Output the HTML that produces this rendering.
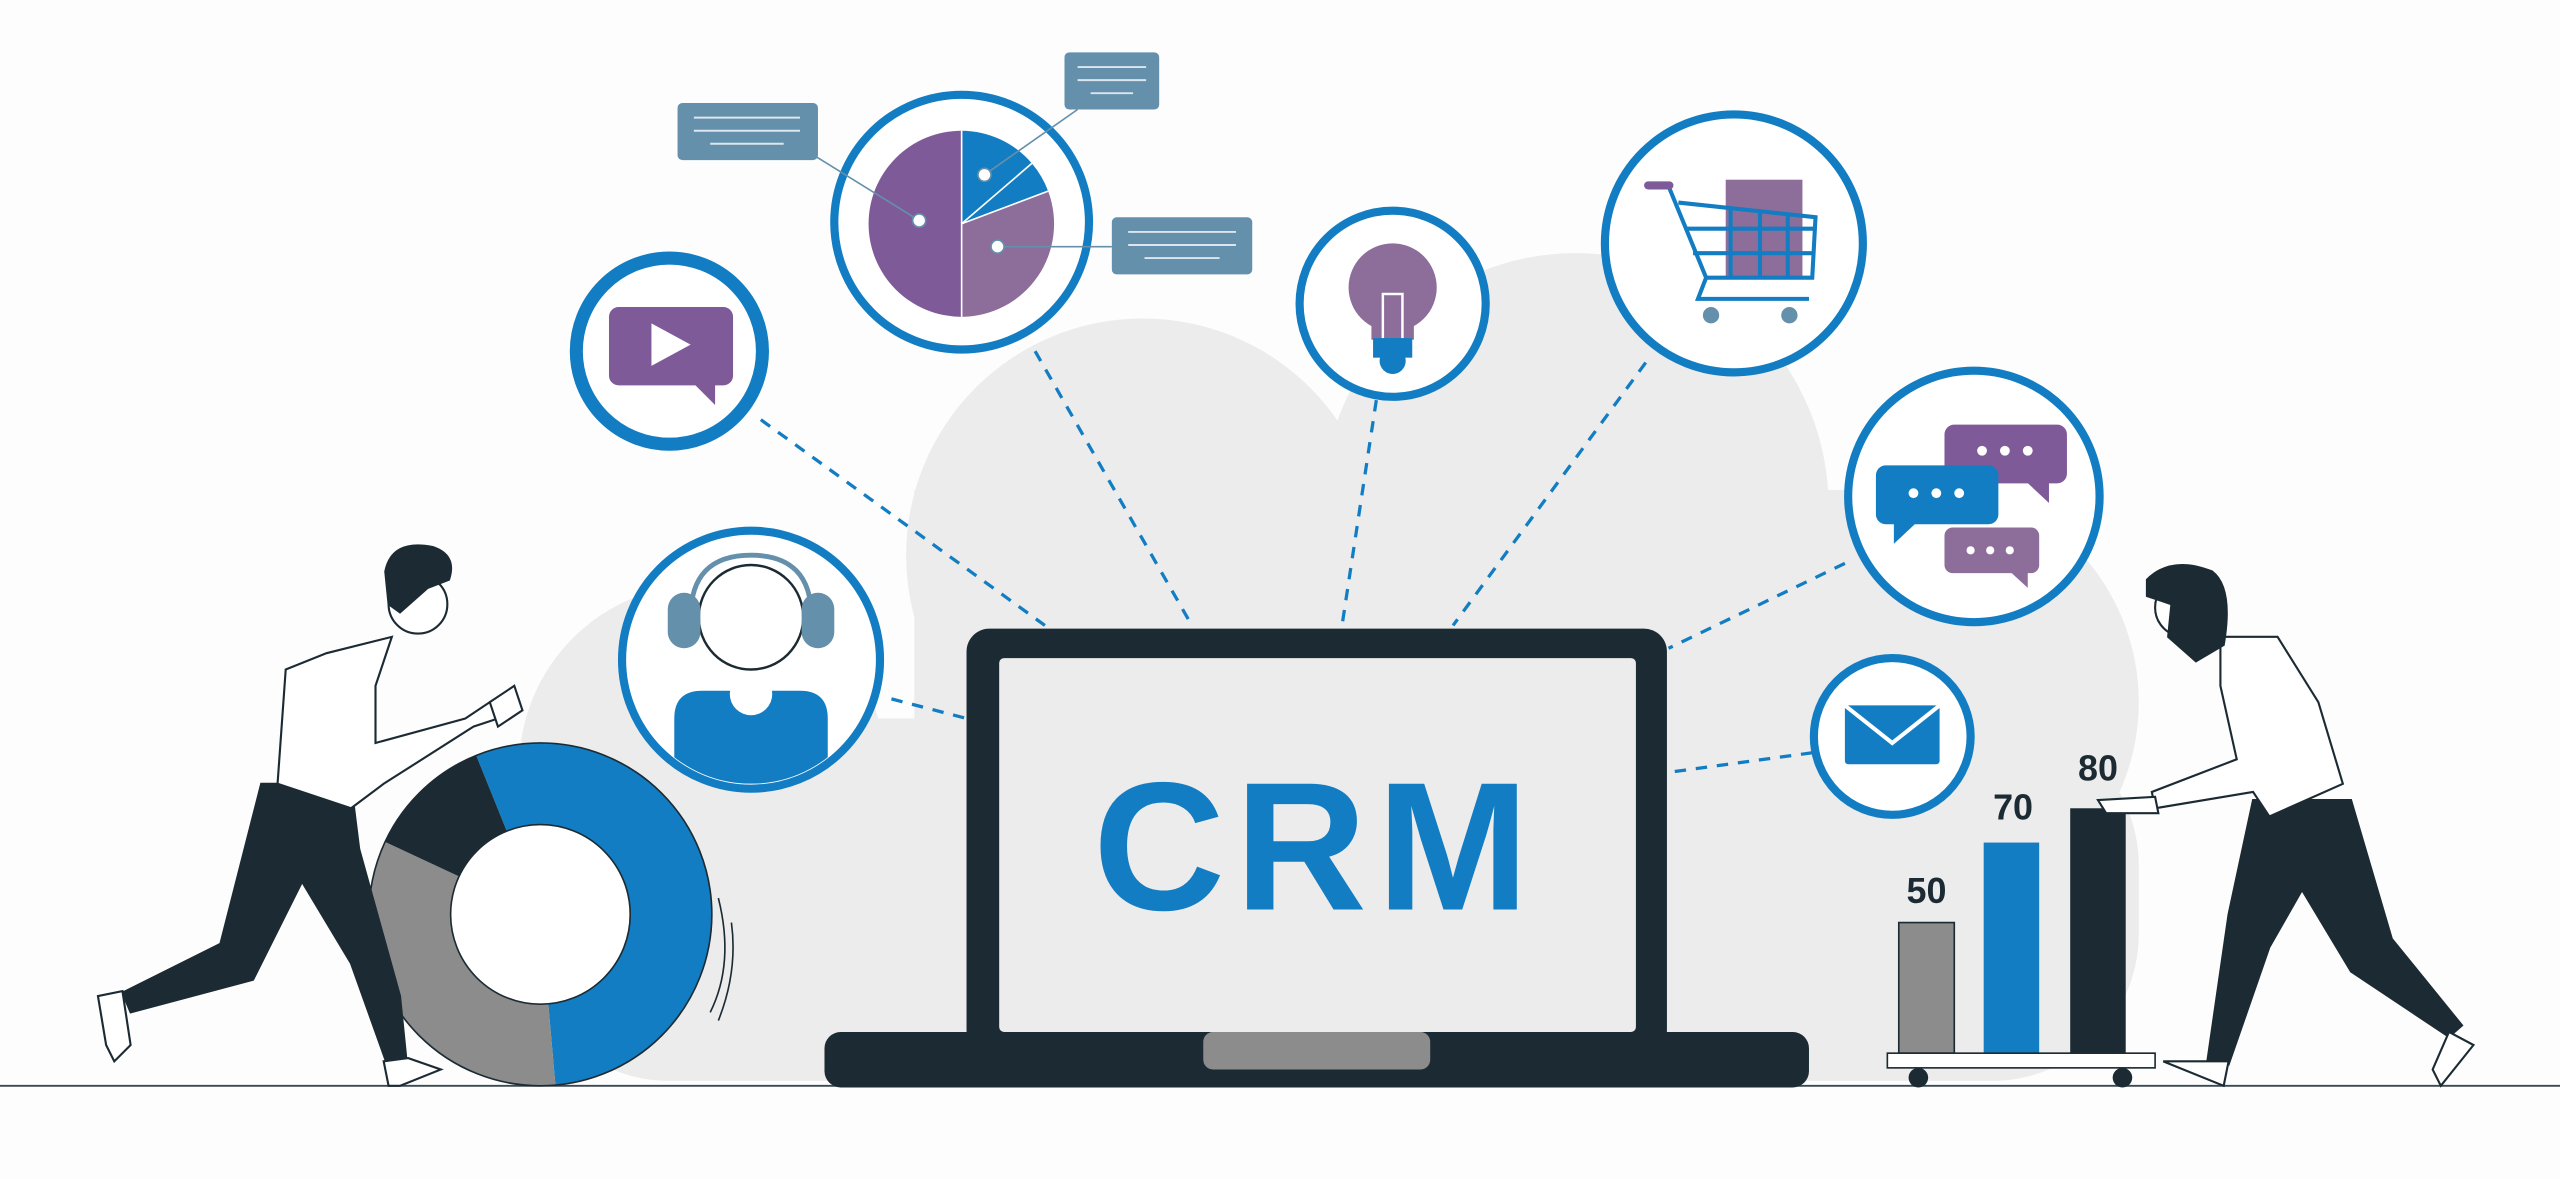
<!DOCTYPE html>
<html><head><meta charset="utf-8"><style>
html,body{margin:0;padding:0;background:#fdfdfd;}
svg{display:block}
</style></head><body>
<svg width="2560" height="1179" viewBox="0 0 1568 722" xmlns="http://www.w3.org/2000/svg">
<rect width="1568" height="722" fill="#fdfdfd"/>
<!-- cloud -->
<g fill="#ececec">
<circle cx="700" cy="340" r="145"/>
<circle cx="965" cy="310" r="155"/>
<circle cx="1175" cy="430" r="135"/>
<circle cx="430" cy="470" r="112"/>
<rect x="320" y="440" width="990" height="222" rx="90"/>
<rect x="560" y="300" width="600" height="200"/>
</g>
<line x1="0" y1="665" x2="1568" y2="665" stroke="#3a4a52" stroke-width="1.2"/>
<!-- dashed connectors -->
<g stroke="#127dc2" stroke-width="2" stroke-dasharray="7,6" fill="none">
<line x1="466" y1="257" x2="640" y2="383"/>
<line x1="634" y1="215" x2="730" y2="383"/>
<line x1="843" y1="245" x2="822" y2="383"/>
<line x1="1008" y1="222" x2="890" y2="383"/>
<line x1="1130" y1="345" x2="1022" y2="397"/>
<line x1="1110" y1="461" x2="1022" y2="473"/>
<line x1="546" y1="428" x2="592" y2="440"/>
</g>
<!-- laptop -->
<rect x="592" y="385" width="429" height="260" rx="14" fill="#1c2b33"/>
<rect x="612" y="403" width="390" height="229" rx="3" fill="#ececec"/>
<rect x="505" y="632" width="603" height="34" rx="10" fill="#1c2b33"/>
<rect x="737" y="632" width="139" height="23" rx="6" fill="#8c8c8c"/>
<text x="806" y="557" text-anchor="middle" font-family="Liberation Sans, sans-serif" font-weight="bold" font-size="112" letter-spacing="6" fill="#127dc2">CRM</text>
<!-- circles -->
<g fill="#fff" stroke="#127dc2">
<circle cx="410" cy="215" r="57" stroke-width="8"/>
<circle cx="589" cy="136" r="78" stroke-width="5"/>
<circle cx="853" cy="186" r="57" stroke-width="5"/>
<circle cx="1062" cy="149" r="79" stroke-width="5"/>
<circle cx="1209" cy="304" r="77" stroke-width="5"/>
<circle cx="1159" cy="451" r="48" stroke-width="5"/>
<circle cx="460" cy="404" r="79" stroke-width="5"/>
</g>
<!-- video icon -->
<rect x="373" y="188" width="76" height="48" rx="6" fill="#7f5a99"/>
<path d="M424 234 L438 234 L438 248 Z" fill="#7f5a99"/>
<path d="M399 198 L423 211 L399 224 Z" fill="#fff"/>
<!-- pie -->
<path d="M589 137 L589 80 A57 57 0 0 0 589 194 Z" fill="#7f5a99"/>
<path d="M589 137 L589 194 A57 57 0 0 0 642 117 Z" fill="#8d6e9a"/>
<path d="M589 137 L642 117 A57 57 0 0 0 632 100 Z" fill="#127dc2"/>
<path d="M589 137 L632 100 A57 57 0 0 0 589 80 Z" fill="#127dc2"/>
<g stroke="#fff" stroke-width="1"><line x1="589" y1="80" x2="589" y2="194"/><line x1="589" y1="137" x2="642" y2="117"/><line x1="589" y1="137" x2="632" y2="100"/></g>
<g stroke="#6490ab" stroke-width="1"><line x1="500" y1="96" x2="563" y2="135"/><line x1="603" y1="107" x2="660" y2="67"/><line x1="611" y1="151" x2="681" y2="151"/></g>
<g fill="#fff" stroke="#6490ab" stroke-width="1"><circle cx="563" cy="135" r="4"/><circle cx="603" cy="107" r="4"/><circle cx="611" cy="151" r="4"/></g>
<g fill="#6490ab"><rect x="415" y="63" width="86" height="35" rx="3"/><rect x="652" y="32" width="58" height="35" rx="3"/><rect x="681" y="133" width="86" height="35" rx="3"/></g>
<g stroke="#dce6ee" stroke-width="1.2">
<line x1="425" y1="72" x2="490" y2="72"/><line x1="425" y1="80" x2="490" y2="80"/><line x1="435" y1="88" x2="480" y2="88"/>
<line x1="660" y1="41" x2="702" y2="41"/><line x1="660" y1="49" x2="702" y2="49"/><line x1="668" y1="57" x2="694" y2="57"/>
<line x1="691" y1="142" x2="757" y2="142"/><line x1="691" y1="150" x2="757" y2="150"/><line x1="701" y1="158" x2="747" y2="158"/>
</g>
<!-- bulb -->
<circle cx="853" cy="176" r="27" fill="#8d6e9a"/>
<rect x="840" y="180" width="26" height="28" fill="#8d6e9a"/>
<rect x="847" y="180" width="12" height="28" fill="none" stroke="#fff" stroke-width="1.5"/>
<rect x="841" y="207" width="24" height="12" fill="#127dc2"/>
<circle cx="853" cy="221" r="8" fill="#127dc2"/>
<!-- cart -->
<rect x="1057" y="110" width="47" height="60" fill="#8d6e9a"/>
<g stroke="#127dc2" stroke-width="2.5" fill="none">
<path d="M1022 114 L1045 170 L1040 183 L1108 183"/>
<path d="M1028 124 L1112 133 L1110 170 L1045 170"/>
<line x1="1032" y1="140" x2="1111" y2="140"/><line x1="1037" y1="155" x2="1110" y2="155"/>
<line x1="1060" y1="127" x2="1060" y2="170"/><line x1="1078" y1="129" x2="1078" y2="170"/><line x1="1095" y1="131" x2="1095" y2="170"/>
</g>
<rect x="1007" y="111" width="18" height="5" rx="2.5" fill="#7f5a99"/>
<circle cx="1048" cy="193" r="5" fill="#6490ab"/><circle cx="1096" cy="193" r="5" fill="#6490ab"/>
<!-- chat -->
<rect x="1191" y="260" width="75" height="36" rx="6" fill="#7f5a99"/><path d="M1240 294 L1255 308 L1255 294 Z" fill="#7f5a99"/>
<rect x="1149" y="285" width="75" height="36" rx="6" fill="#127dc2"/><path d="M1160 319 L1160 333 L1175 319 Z" fill="#127dc2"/>
<rect x="1191" y="323" width="58" height="28" rx="5" fill="#8d6e9a"/><path d="M1230 349 L1242 360 L1242 349 Z" fill="#8d6e9a"/>
<g fill="#fff"><circle cx="1214" cy="276" r="3"/><circle cx="1228" cy="276" r="3"/><circle cx="1242" cy="276" r="3"/>
<circle cx="1172" cy="302" r="3"/><circle cx="1186" cy="302" r="3"/><circle cx="1200" cy="302" r="3"/>
<circle cx="1207" cy="337" r="2.5"/><circle cx="1219" cy="337" r="2.5"/><circle cx="1231" cy="337" r="2.5"/></g>
<!-- mail -->
<rect x="1130" y="432" width="58" height="36" rx="2" fill="#127dc2"/>
<path d="M1130 432 L1159 455 L1188 432" stroke="#fff" stroke-width="2.5" fill="none"/>
<!-- headset person -->
<clipPath id="hc"><circle cx="460" cy="404" r="76"/></clipPath>
<g clip-path="url(#hc)">
<path d="M413 480 L413 440 Q413 423 430 423 L490 423 Q507 423 507 440 L507 480 Z" fill="#127dc2"/>
<circle cx="460" cy="425" r="13" fill="#fff"/>
</g>
<circle cx="460" cy="378" r="32" fill="#fff" stroke="#1c2b33" stroke-width="1.5"/>
<path d="M423 378 Q423 340 460 340 Q497 340 497 378" fill="none" stroke="#6490ab" stroke-width="3"/>
<rect x="409" y="363" width="20" height="34" rx="10" fill="#6490ab"/>
<rect x="491" y="363" width="20" height="34" rx="10" fill="#6490ab"/>
<!-- donut -->
<path d="M331 560 L291.7 462.7 A105 105 0 1 1 340.2 664.6 Z" fill="#127dc2"/>
<path d="M331 560 L340.2 664.6 A105 105 0 0 1 235.8 515.6 Z" fill="#8c8c8c"/>
<path d="M331 560 L235.8 515.6 A105 105 0 0 1 291.7 462.7 Z" fill="#1c2b33"/>
<circle cx="331" cy="560" r="105" fill="none" stroke="#1c2b33" stroke-width="1"/>
<circle cx="331" cy="560" r="55" fill="#fff" stroke="#1c2b33" stroke-width="1"/>
<g stroke="#1c2b33" fill="none" stroke-width="1"><path d="M440 550 Q450 590 435 620"/><path d="M448 565 Q452 595 440 625"/></g>
<!-- left person -->
<g stroke="#1c2b33" stroke-width="1.3">
<path d="M160 480 L135 578 L75 608 L80 620 L155 600 L185 540 L215 590 L240 660 L250 660 L245 610 L220 520 L215 480 Z" fill="#1c2b33"/>
<path d="M60 610 L75 607 L80 640 L70 650 L65 640 Z" fill="#fff"/>
<path d="M235 650 L250 648 L270 655 L245 665 L238 665 Z" fill="#fff"/>
<path d="M240 390 L200 400 L175 410 L170 480 L215 495 L235 480 L290 445 L305 440 L300 430 L285 440 L230 455 L230 420 Z" fill="#fff"/>
<circle cx="256" cy="370" r="18" fill="#fff"/>
<path d="M236 350 Q240 330 265 335 Q280 340 275 355 L262 360 L245 375 L238 370 Z" fill="#1c2b33"/>
<path d="M300 430 L315 420 L320 435 L305 445 Z" fill="#fff"/>
</g>
<!-- bars -->
<rect x="1163" y="565" width="34" height="80" fill="#8c8c8c" stroke="#1c2b33" stroke-width="1"/>
<rect x="1215" y="516" width="34" height="129" fill="#127dc2"/>
<rect x="1268" y="495" width="34" height="150" fill="#1c2b33"/>
<g font-family="Liberation Sans, sans-serif" font-weight="bold" font-size="22" fill="#1c2b33" text-anchor="middle">
<text x="1180" y="553">50</text><text x="1233" y="502">70</text><text x="1285" y="478">80</text></g>
<rect x="1156" y="645" width="164" height="9" fill="#fff" stroke="#1c2b33" stroke-width="1"/>
<circle cx="1175" cy="660" r="6" fill="#1c2b33"/><circle cx="1300" cy="660" r="6" fill="#1c2b33"/>
<!-- right person -->
<g stroke="#1c2b33" stroke-width="1.3">
<path d="M1380 490 L1365 560 L1352 650 L1365 652 L1390 580 L1410 545 L1440 595 L1500 635 L1508 628 L1465 575 L1440 490 Z" fill="#1c2b33"/>
<path d="M1350 650 L1365 650 L1362 665 L1325 650 Z" fill="#fff"/>
<path d="M1500 632 L1515 640 L1495 665 L1490 655 Z" fill="#fff"/>
<path d="M1360 390 L1395 390 L1420 430 L1435 480 L1390 500 L1380 485 L1320 495 L1318 485 L1370 465 L1360 420 Z" fill="#fff"/>
<circle cx="1338" cy="372" r="18" fill="#fff"/>
<path d="M1315 355 Q1330 340 1355 350 Q1368 360 1362 395 L1345 405 L1328 390 L1330 370 L1315 365 Z" fill="#1c2b33"/>
<path d="M1285 490 L1320 488 L1322 498 L1290 498 Z" fill="#fff"/>
</g>
</svg>
</body></html>
